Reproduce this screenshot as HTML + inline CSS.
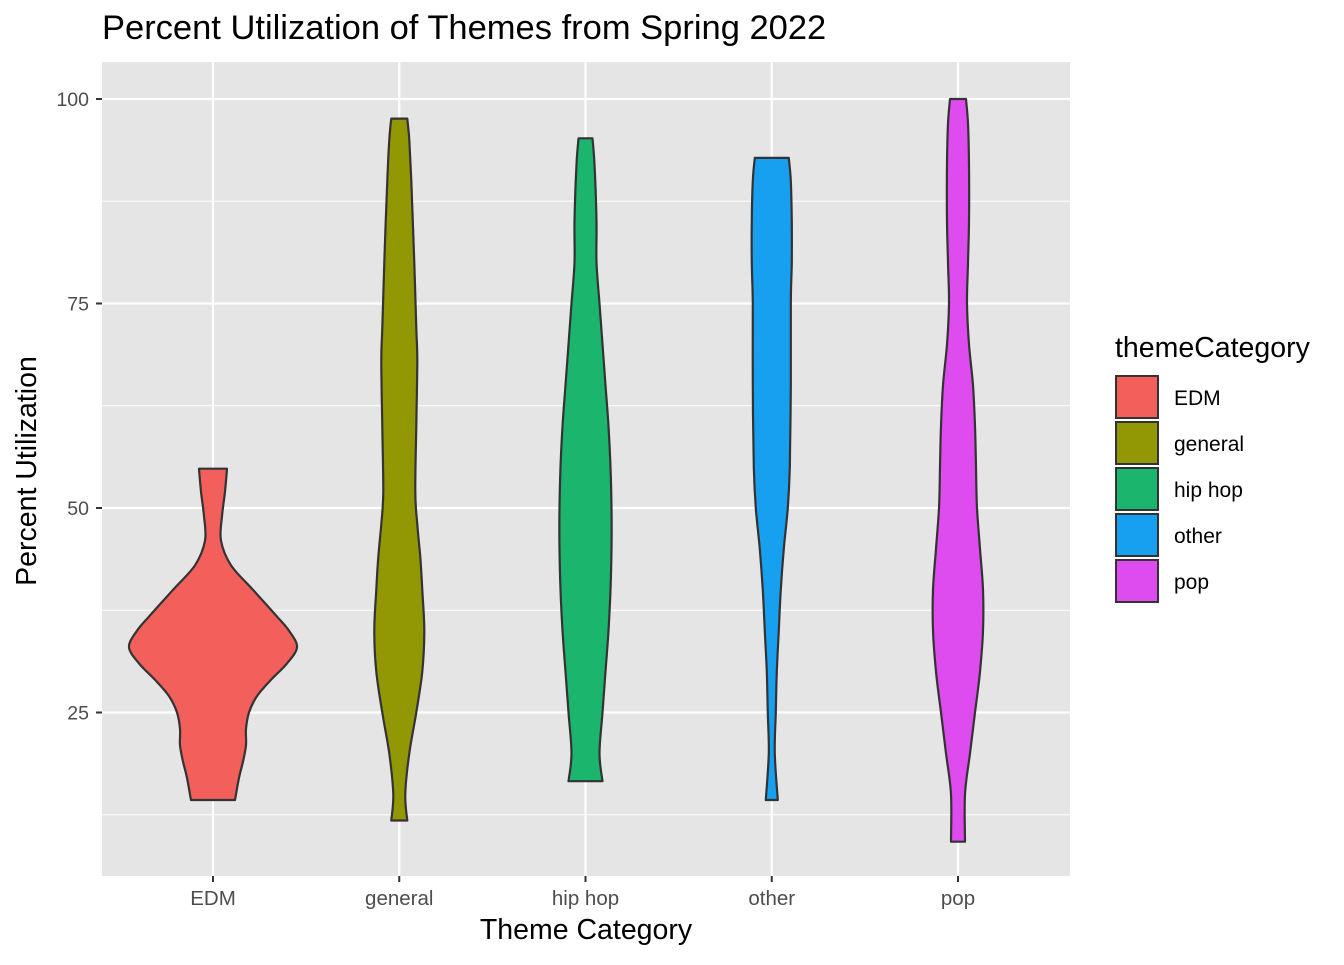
<!DOCTYPE html>
<html><head><meta charset="utf-8"><style>
body{margin:0;background:#fff;font-family:"Liberation Sans",Arial,sans-serif}
</style></head><body>
<svg id="chart" width="1344" height="960" xmlns="http://www.w3.org/2000/svg">
<text x="102" y="39" font-size="34.5" fill="#000">Percent Utilization of Themes from Spring 2022</text>
<rect x="102" y="62" width="968" height="814" fill="#E5E5E5"/>
<g id="grid"></g><g id="violins"></g><g id="axes"></g><g id="legend"></g>
<text x="586" y="939" font-size="28.5" text-anchor="middle">Theme Category</text>
<text transform="translate(36,471) rotate(-90)" font-size="28.5" text-anchor="middle">Percent Utilization</text>
</svg>
<script>
const categories=["EDM","general","hip hop","other","pop"];
const colors=["#F35F5B","#919804","#1BB56D","#179FF0","#DE4CEF"];
const yTicks=[25,50,75,100];
const yMinor=[12.5,37.5,62.5,87.5];
const vEDM=[54.8,52,49,46,43,40,37,35,33,31,29,27,25,23,21,19,17,14.3];
const dEDM=[14,12,9,8,18,40,62,76,84,74,58,44,36,33,33,30,26,22];
const vGen=[97.6,95,90,80,72,68,60,52,48,44,40,35,30,25,20,15,11.8];
const dGen=[8,10,12,15,17,18,17,16,18,21,23,25,23,17,10,6,8];
const vHip=[95.2,92,85,80,75,70,65,60,55,50,45,40,35,30,25,20,16.6];
const dHip=[7,9,11,11,14,17,20,23,25,26,26,25,23,20,17,14,17];
const vOth=[92.8,90,85,80,75,65,55,50,45,40,35,30,25,20,14.3];
const dOth=[17,19,20,20,19,19,18,16,12,9,7,5,4,3,6];
const vPop=[100,97,92,85,80,75,70,65,60,55,50,45,40,35,30,25,20,15,9.2];
const dPop=[8,10,11,11,10,9,11,15,17,18,19,22,25,25,22,17,12,7,7];
const series=[[vEDM,dEDM],[vGen,dGen],[vHip,dHip],[vOth,dOth],[vPop,dPop]];
const NS="http://www.w3.org/2000/svg";
const y=v=>917-8.18*v;
const x=i=>213+186.25*i;
function mk(t,a,p){const e=document.createElementNS(NS,t);for(const k in a)e.setAttribute(k,a[k]);p.appendChild(e);return e;}
function smooth(pts){let d='M'+pts[0][0].toFixed(1)+','+pts[0][1].toFixed(1);
for(let i=0;i<pts.length-1;i++){const p0=pts[Math.max(i-1,0)],p1=pts[i],p2=pts[i+1],p3=pts[Math.min(i+2,pts.length-1)];
const c1=[p1[0]+(p2[0]-p0[0])/6,p1[1]+(p2[1]-p0[1])/6],c2=[p2[0]-(p3[0]-p1[0])/6,p2[1]-(p3[1]-p1[1])/6];
d+=' C'+c1.map(n=>n.toFixed(1)).join(',')+' '+c2.map(n=>n.toFixed(1)).join(',')+' '+p2.map(n=>n.toFixed(1)).join(',');}
return d;}
const grid=document.getElementById('grid');
yMinor.forEach(v=>{const l=mk('line',{x1:102,x2:1070,y1:y(v),y2:y(v),stroke:'#fff','stroke-width':1.1},grid);

});
yTicks.forEach(v=>{const l=mk('line',{x1:102,x2:1070,y1:y(v),y2:y(v),stroke:'#fff','stroke-width':2.2},grid);

});
categories.forEach((c,i)=>{const l=mk('line',{x1:x(i),x2:x(i),y1:62,y2:876,stroke:'#fff','stroke-width':2.2},grid);

});
const vg=document.getElementById('violins');
series.forEach((s,i)=>{const [vals,ds]=s;const cx=x(i);
const right=vals.map((v,j)=>[cx+ds[j],y(v)]);
const left=vals.map((v,j)=>[cx-ds[j],y(v)]).reverse();
let d=smooth(right)+' L'+smooth(left).slice(1)+' Z';
const p=mk('path',{d:d,fill:colors[i],stroke:'#333','stroke-width':2.2,'stroke-linejoin':'round'},vg);

});
const ax=document.getElementById('axes');
yTicks.forEach(v=>{mk('line',{x1:96,x2:102,y1:y(v),y2:y(v),stroke:'#333','stroke-width':2},ax);
const t=mk('text',{x:89,y:y(v)+7,'font-size':19.5,fill:'#4D4D4D','text-anchor':'end'},ax);t.textContent=v;

});
categories.forEach((c,i)=>{mk('line',{x1:x(i),x2:x(i),y1:876,y2:882,stroke:'#333','stroke-width':2},ax);
const t=mk('text',{x:x(i),y:905,'font-size':20.5,fill:'#4D4D4D','text-anchor':'middle'},ax);t.textContent=c;

});
const lg=document.getElementById('legend');
const lt=mk('text',{x:1115,y:357,'font-size':28.5},lg);lt.textContent='themeCategory';


categories.forEach((c,i)=>{const yy=376+46*i;
const r=mk('rect',{x:1116,y:yy,width:42,height:42,fill:colors[i],stroke:'#333','stroke-width':2},lg);


const t=mk('text',{x:1174,y:yy+29,'font-size':21},lg);t.textContent=c;

});
</script>
</body></html>
